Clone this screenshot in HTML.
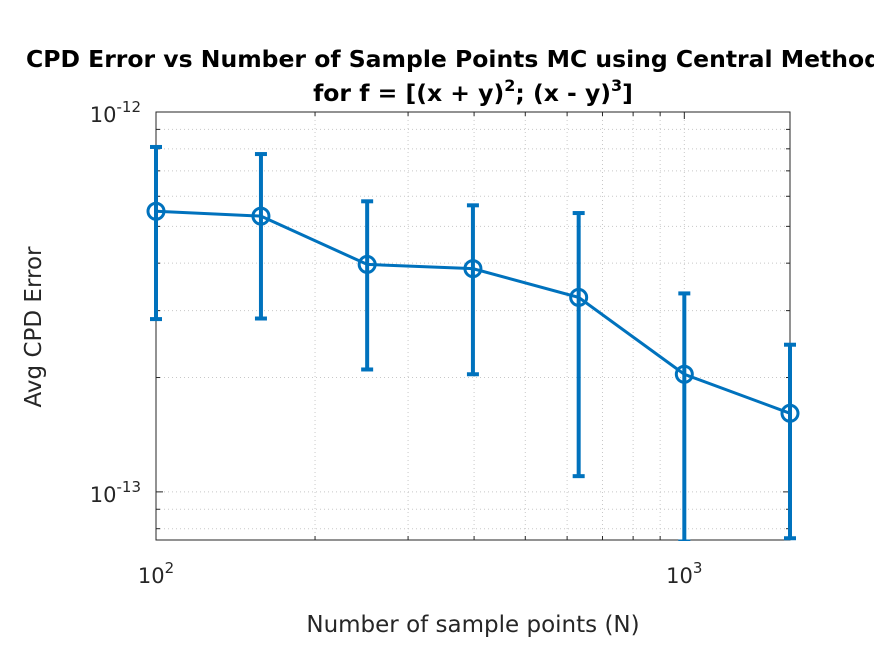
<!DOCTYPE html>
<html><head><meta charset="utf-8"><style>
html,body{margin:0;padding:0;background:#fff;width:874px;height:655px;overflow:hidden}
svg{display:block}
text{font-family:"DejaVu Sans","Liberation Sans",sans-serif}
</style></head><body>
<svg id="chart" width="874" height="655"></svg>
<script>
const xValues=[100,158,251,398,631,1000,1585];
const yMeans=[5.48e-13,5.32e-13,3.97e-13,3.87e-13,3.25e-13,2.04e-13,1.61e-13];
const yUpper=[8.09e-13,7.75e-13,5.82e-13,5.68e-13,5.42e-13,3.33e-13,2.44e-13];
const yLower=[2.85e-13,2.86e-13,2.10e-13,2.04e-13,1.10e-13,7.4e-14,7.55e-14];
const xTickVals=[100,1000];
const xTickBase=["10","10"];const xTickExp=["2","3"];
const yTickVals=[1e-12,1e-13];
const yTickExp=["-12","-13"];
const NS="http://www.w3.org/2000/svg";
const svg=document.getElementById('chart');
const L=156,R=790,T=112,B=540;
const xMin=100,xMax=1585,yMin=7.47e-14,yMax=1e-12;
const xs=v=>L+(Math.log10(v)-Math.log10(xMin))/(Math.log10(xMax)-Math.log10(xMin))*(R-L);
const ys=v=>T+(Math.log10(yMax)-Math.log10(v))/(Math.log10(yMax)-Math.log10(yMin))*(B-T);
function mk(tag,attrs,parent){const e=document.createElementNS(NS,tag);for(const k in attrs)e.setAttribute(k,attrs[k]);(parent||svg).appendChild(e);return e;}
const clip=mk('clipPath',{id:'pc'});mk('rect',{x:L-20,y:T,width:R-L+40,height:B-T+1},clip);
const grid=mk('g',{});


for(let d=100;d<=1000;d*=10){for(let m=1;m<10;m++){const v=d*m;if(v<=xMin||v>=xMax)continue;const x=xs(v);
 const ln=mk('line',{x1:x,x2:x,y1:T,y2:B,stroke:'#c8c8c8','stroke-width':1,'stroke-dasharray':'1,3'},grid);
 
 }}
for(let d=1e-14;d<=1e-13;d*=10){for(let m=1;m<10;m++){const v=d*m;if(v<=yMin||v>=yMax)continue;const y=ys(v);
 const ln=mk('line',{x1:L,x2:R,y1:y,y2:y,stroke:'#c8c8c8','stroke-width':1,'stroke-dasharray':'1,3'},grid);
 
 }}
const box=mk('rect',{x:L,y:T,width:R-L,height:B-T,fill:'none',stroke:'#262626','stroke-width':1});


for(let d=100;d<=1000;d*=10){for(let m=1;m<10;m++){const v=d*m;if(v<xMin||v>xMax)continue;const x=xs(v);const len=m===1?7:4;
 mk('line',{x1:x,x2:x,y1:B,y2:B-len,stroke:'#262626'});mk('line',{x1:x,x2:x,y1:T,y2:T+len,stroke:'#262626'});}}
for(let d=1e-14;d<=1e-13;d*=10){for(let m=1;m<10;m++){const v=d*m;if(v<yMin||v>yMax)continue;const y=ys(v);const len=m===1?7:4;
 mk('line',{x1:L,x2:L+len,y1:y,y2:y,stroke:'#262626'});mk('line',{x1:R,x2:R-len,y1:y,y2:y,stroke:'#262626'});}}
mk('line',{x1:L,x2:L+7,y1:ys(1e-12),y2:ys(1e-12),stroke:'#262626'});
xTickVals.forEach((v,i)=>{const t=mk('text',{x:xs(v),y:583,'font-size':21,fill:'#262626','text-anchor':'middle'});
 
 
 t.innerHTML=xTickBase[i]+'<tspan dy="-10" font-size="15">'+xTickExp[i]+'</tspan>';});
yTickVals.forEach((v,i)=>{const t=mk('text',{x:141,y:ys(v)+10,'font-size':21,fill:'#262626','text-anchor':'end'});
 
 
 t.innerHTML='10<tspan dy="-10" font-size="15">'+yTickExp[i]+'</tspan>';});
const g=mk('g',{'clip-path':'url(#pc)'});


const c='#0072BD';
xValues.forEach((v,i)=>{const x=xs(v);
 const eb=mk('line',{x1:x,x2:x,y1:ys(yUpper[i]),y2:ys(yLower[i]),stroke:c,'stroke-width':4},g);
 
 
 mk('line',{x1:x-6,x2:x+6,y1:ys(yUpper[i]),y2:ys(yUpper[i]),stroke:c,'stroke-width':4},g);
 mk('line',{x1:x-6,x2:x+6,y1:ys(yLower[i]),y2:ys(yLower[i]),stroke:c,'stroke-width':4},g);});
const pl=mk('polyline',{points:xValues.map((v,i)=>xs(v)+','+ys(yMeans[i])).join(' '),fill:'none',stroke:c,'stroke-width':3},g);


xValues.forEach((v,i)=>{const m=mk('circle',{cx:xs(v),cy:ys(yMeans[i]),r:8,fill:'none',stroke:c,'stroke-width':3},g);
 
 });
const t1=mk('text',{x:26,y:67,'font-size':23.5,'font-weight':'bold',fill:'#000'});
t1.textContent='CPD Error vs Number of Sample Points MC using Central Method';


const t2=mk('text',{x:473,y:101,'font-size':23.5,'font-weight':'bold',fill:'#000','text-anchor':'middle'});
t2.innerHTML='for f = [(x + y)<tspan dy="-10" font-size="16">2</tspan><tspan dy="10">; (x - y)</tspan><tspan dy="-10" font-size="16">3</tspan><tspan dy="10">]</tspan>';


const xl=mk('text',{x:473,y:632,'font-size':23,fill:'#262626','text-anchor':'middle'});
xl.textContent='Number of sample points (N)';


const yl=mk('text',{x:0,y:0,'font-size':23,fill:'#262626','text-anchor':'middle',transform:'translate(41,327) rotate(-90)'});
yl.textContent='Avg CPD Error';


</script>
</body></html>
